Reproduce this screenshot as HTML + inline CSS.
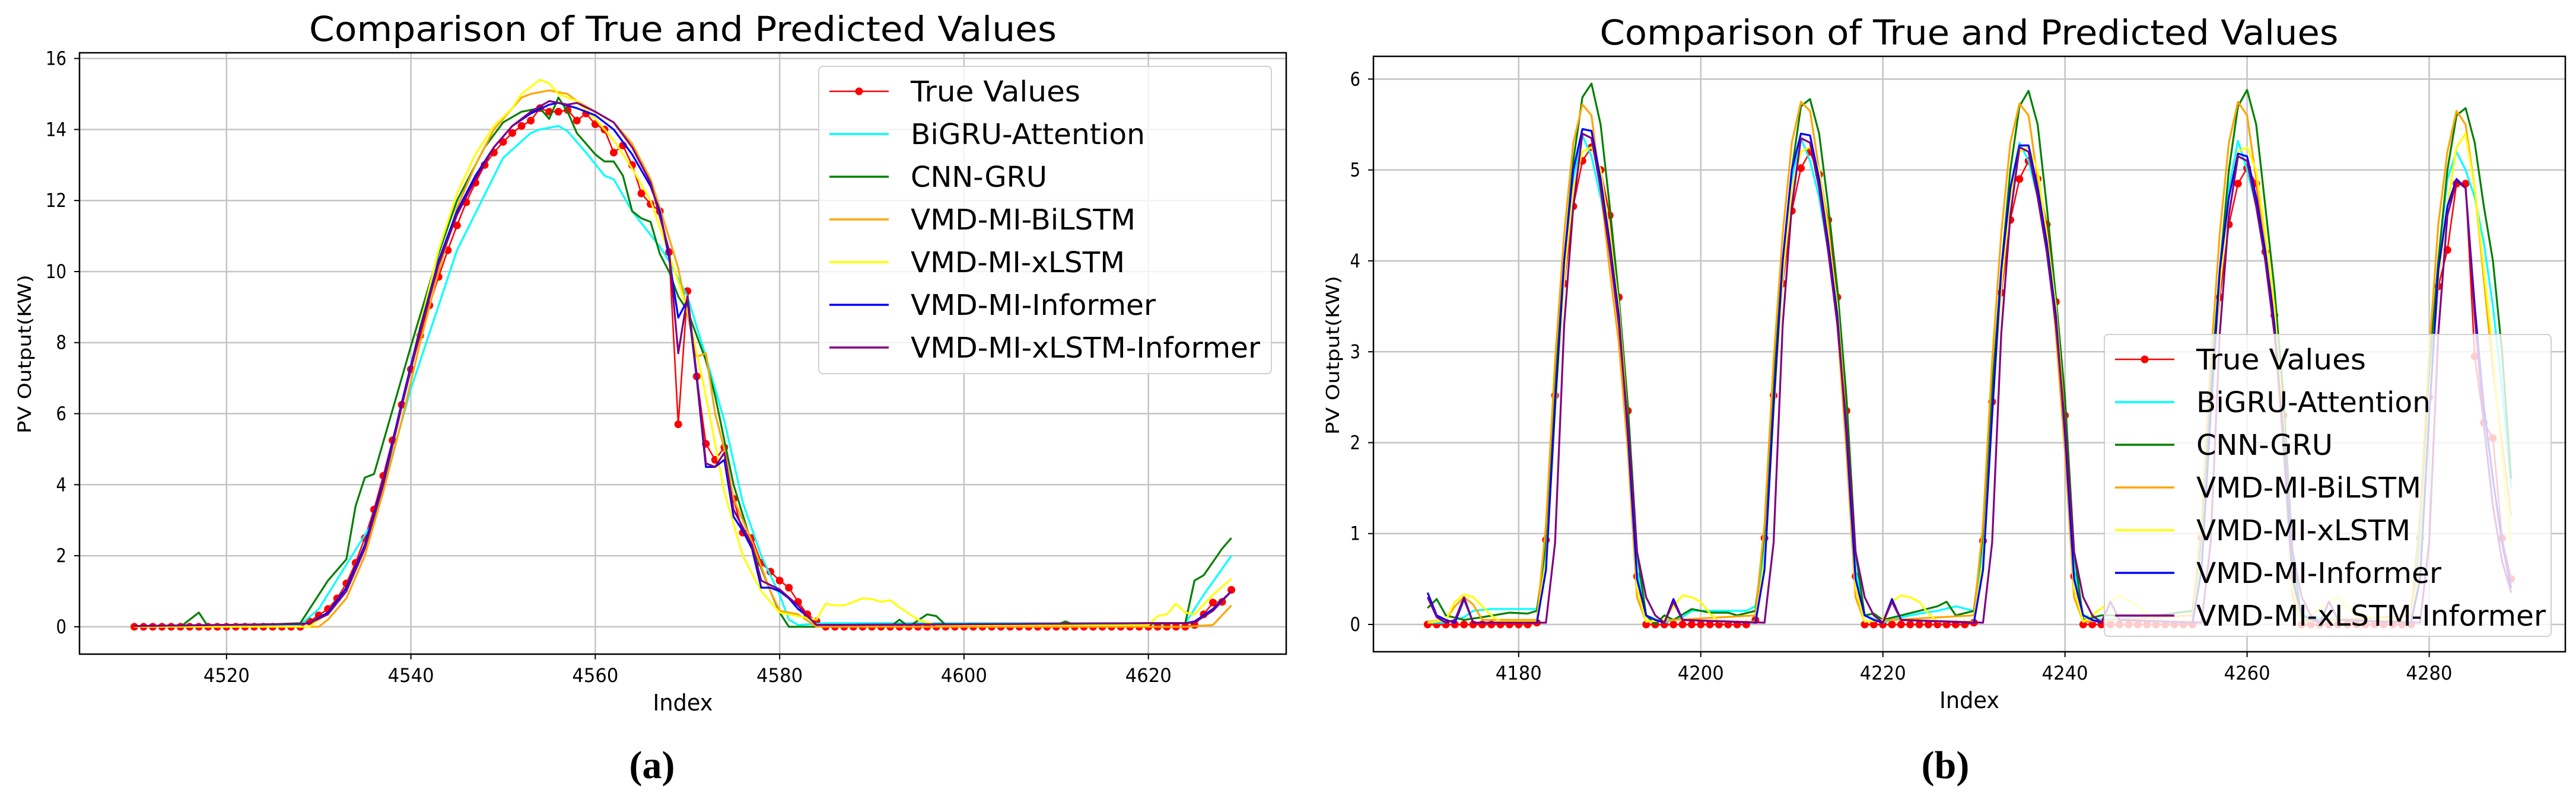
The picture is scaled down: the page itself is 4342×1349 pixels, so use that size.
<!DOCTYPE html>
<html><head><meta charset="utf-8"><style>
html,body{margin:0;padding:0;background:#fff;}
svg{display:block;}
text{font-family:"DejaVu Sans","Liberation Sans",sans-serif;}
</style></head><body>
<svg id="fig" width="4342" height="1349" viewBox="0 0 4342 1349" xmlns="http://www.w3.org/2000/svg"></svg>
<script>
// ===== Chart (a) data =====
const aStart = 4510;
const aTrue = [0,0,0,0,0,0,0,0,0,0,0,0,0,0,0,0,0,0,0,
0.15,0.32,0.5,0.8,1.22,1.8,2.5,3.3,4.25,5.25,6.25,7.25,8.2,9.05,9.85,10.6,11.3,11.95,12.5,13.0,13.35,13.65,13.9,14.1,14.25,14.6,14.5,14.5,14.55,14.25,14.45,14.15,14.0,13.35,13.55,13.0,12.2,11.9,11.7,10.55,5.7,9.45,7.05,5.15,4.7,5.05,3.6,2.65,2.5,1.8,1.55,1.3,1.1,0.7,0.35,0.15,
0,0,0,0,0,0,0,0,0,0,0,0,0,0,0,0,0,0,0,0,0,0,0,0,0,0,0,0,0,0,0,0,0,0,0,0,0,0,0,0,0.05,
0.35,0.68,0.7,1.04];
const aBigruX = [4510,4528,4530,4533,4536,4540,4545,4550,4553,4554,4556,4557,4559,4561,4562,4564,4567,4568,4570,4572,4574,4576,4578,4580,4581,4582,4585,4620,4624,4626,4629];
const aBigruY = [0.02,0.05,0.5,1.75,3.0,6.7,10.6,13.2,13.9,14.0,14.1,13.95,13.35,12.7,12.6,11.7,10.7,10.3,9.3,7.6,5.8,3.5,2.0,0.9,0.2,0.05,0.1,0.1,0.1,0.9,2.0];
const aCnnX = [4510,4515,4517,4518,4528,4530,4531,4533,4534,4535,4536,4537,4540,4543,4545,4548,4550,4552,4554,4555,4556,4557,4558,4559,4560,4561,4562,4563,4564,4565,4566,4567,4568,4569,4570,4572,4573,4575,4577,4579,4580,4581,4592,4593,4594,4596,4597,4598,4610,4611,4612,4624,4625,4626,4628,4629];
const aCnnY = [0,0,0.4,0,0.1,0.9,1.3,1.9,3.4,4.2,4.3,5.2,7.9,10.5,12.0,13.5,14.2,14.5,14.6,14.3,14.9,14.5,13.9,13.6,13.3,13.1,13.1,12.7,11.7,11.5,11.4,10.5,10.0,9.3,8.9,7.5,6.5,4.0,2.3,1.0,0.4,0,0,0.2,0,0.35,0.3,0.05,0.05,0.15,0.05,0.1,1.3,1.45,2.2,2.5];
const aBilstmX = [4510,4530,4531,4533,4535,4537,4539,4541,4543,4545,4547,4549,4551,4552,4553,4555,4557,4558,4560,4562,4564,4566,4567,4569,4570,4571,4572,4573,4574,4575,4577,4579,4580,4582,4584,4624,4627,4629];
const aBilstmY = [0,0,0.2,0.8,2.0,3.8,5.8,8.0,10.0,11.8,13.0,14.0,14.6,14.9,15.0,15.1,15.0,14.8,14.5,14.2,13.6,12.6,11.8,10.1,8.8,7.6,7.7,6.0,5.0,3.6,2.4,1.0,0.45,0.35,0,0,0.05,0.6];
const aXlstmX = [4510,4529,4531,4533,4535,4537,4539,4541,4543,4545,4547,4549,4551,4552,4554,4555,4556,4558,4560,4562,4564,4566,4568,4570,4572,4574,4576,4578,4580,4582,4584,4585,4586,4587,4588,4589,4590,4591,4592,4593,4595,4597,4620,4621,4622,4623,4624,4625,4627,4629];
const aXlstmY = [0,0,0.4,1.1,2.3,4.0,6.2,8.5,10.6,12.2,13.3,14.1,14.6,15.0,15.4,15.3,15.0,14.8,14.3,13.7,12.9,12.0,10.5,8.9,6.5,3.8,2.0,1.0,0.4,0.3,0.2,0.65,0.6,0.6,0.7,0.8,0.78,0.7,0.75,0.55,0.2,0.05,0.05,0.3,0.35,0.65,0.4,0.35,0.9,1.35];
const aInfX = [4510,4528,4529,4531,4533,4535,4537,4539,4541,4543,4545,4547,4549,4551,4553,4555,4556,4558,4560,4562,4564,4566,4567,4568,4569,4570,4571,4572,4573,4574,4575,4576,4577,4578,4579,4580,4581,4582,4583,4584,4620,4624,4625,4627,4629];
const aInfY = [0.02,0.08,0.1,0.4,1.1,2.3,4.1,6.3,8.4,10.3,11.7,12.7,13.5,14.1,14.45,14.7,14.75,14.6,14.4,14.0,13.3,12.4,11.7,10.4,8.7,9.2,7.0,4.5,4.5,4.7,3.1,2.7,2.2,1.1,1.1,1.0,0.8,0.5,0.3,0.05,0.1,0.1,0.15,0.5,1.0];
const aXinfX = [4510,4528,4529,4531,4533,4535,4537,4539,4541,4543,4545,4547,4549,4551,4553,4555,4557,4558,4560,4562,4564,4566,4568,4569,4570,4571,4572,4573,4574,4575,4576,4577,4578,4580,4582,4583,4584,4620,4624,4625,4627,4629];
const aXinfY = [0.02,0.08,0.1,0.35,1.0,2.2,4.0,6.2,8.3,10.2,11.6,12.6,13.5,14.1,14.5,14.8,14.7,14.75,14.5,14.2,13.5,12.5,10.6,7.7,9.3,7.1,4.6,4.5,4.9,3.3,2.8,2.3,1.3,1.05,0.6,0.3,0.05,0.1,0.1,0.12,0.45,1.0];
const aXTicks = [4520,4540,4560,4580,4600,4620];
const aYTicks = [0,2,4,6,8,10,12,14,16];

// ===== Chart (b) data =====
const bStart = 4170;
const bTrue = [0,0,0,0,0,0,0,0,0,0,0,0,0.02,
0.93,2.52,3.75,4.6,5.1,5.25,5.0,4.5,3.6,2.35,0.53,
0,0,0,0,0,0,0,0,0,0,0,0,0.05,
0.95,2.52,3.75,4.55,5.02,5.2,4.95,4.45,3.6,2.35,0.53,
0,0,0,0,0,0,0,0,0,0,0,0,0.02,
0.92,2.45,3.65,4.45,4.9,5.1,4.9,4.4,3.55,2.3,0.53,
0,0,0,0,0,0,0,0,0,0,0,0,0,
0.95,2.5,3.6,4.4,4.85,5.02,4.85,4.1,3.4,2.3,0.53,
0,0,0,0,0,0,0,0,0,0,0,0,0,
0.95,2.5,3.72,4.12,4.85,4.85,2.95,2.22,2.05,0.95,0.5];
const bBigruX = [4170,4172,4174,4175,4177,4181,4182,4183,4184,4185,4186,4187,4188,4189,4190,4191,4192,4193,4194,4196,4198,4199,4201,4205,4206,4207,4208,4209,4210,4211,4212,4213,4214,4215,4216,4217,4218,4220,4222,4224,4226,4228,4230,4231,4232,4233,4234,4235,4236,4237,4238,4239,4240,4241,4242,4244,4250,4254,4255,4256,4257,4258,4259,4260,4261,4262,4263,4264,4265,4266,4270,4278,4279,4280,4281,4282,4283,4284,4285,4286,4287,4288,4289];
const bBigruY = [0.02,0.02,0.08,0.15,0.17,0.17,0.17,0.8,2.6,4.0,4.9,5.38,5.15,4.7,4.1,3.4,2.2,0.6,0.1,0.02,0.08,0.15,0.15,0.15,0.2,0.8,2.6,4.0,4.9,5.35,5.1,4.7,4.1,3.4,2.2,0.6,0.1,0.02,0.08,0.12,0.15,0.2,0.15,0.8,2.5,3.9,4.8,5.3,5.1,4.7,4.1,3.3,2.1,0.6,0.1,0.05,0.1,0.15,0.8,2.5,3.9,4.8,5.32,5.0,4.6,4.0,3.3,2.1,0.6,0.1,0.05,0.1,1.0,2.7,4.0,4.9,5.2,5.0,4.7,4.2,3.5,2.6,1.5];
const bCnnX = [4170,4171,4172,4174,4176,4179,4181,4182,4183,4184,4185,4186,4187,4188,4189,4190,4191,4192,4193,4194,4195,4196,4197,4199,4201,4203,4204,4206,4207,4208,4209,4210,4211,4212,4213,4214,4215,4216,4217,4218,4219,4220,4222,4224,4226,4227,4228,4230,4231,4232,4233,4234,4235,4236,4237,4238,4239,4240,4241,4242,4244,4246,4250,4254,4255,4256,4257,4258,4259,4260,4261,4262,4263,4264,4265,4266,4270,4278,4279,4280,4281,4282,4283,4284,4285,4286,4287,4288,4289];
const bCnnY = [0.18,0.28,0.1,0.05,0.08,0.13,0.12,0.15,0.9,2.6,4.0,5.1,5.8,5.95,5.5,4.6,3.6,2.4,0.8,0.1,0,0.1,0.05,0.17,0.13,0.13,0.1,0.15,1.0,2.7,4.0,5.0,5.7,5.78,5.4,4.6,3.7,2.5,0.8,0.1,0.12,0.05,0.1,0.15,0.2,0.25,0.1,0.15,1.0,2.6,3.9,5.0,5.7,5.87,5.5,4.6,3.6,2.5,0.8,0.05,0.1,0.1,0.1,0.15,1.0,2.6,3.9,5.0,5.7,5.88,5.5,4.6,3.7,2.5,0.8,0.05,0.05,0.1,1.2,2.8,4.0,5.0,5.6,5.68,5.3,4.6,4.0,3.0,1.6];
const bBilstmX = [4170,4172,4173,4174,4175,4176,4182,4183,4184,4185,4186,4187,4188,4189,4190,4191,4192,4193,4194,4197,4206,4207,4208,4209,4210,4211,4212,4213,4214,4215,4216,4217,4218,4221,4230,4231,4232,4233,4234,4235,4236,4237,4238,4239,4240,4241,4242,4254,4255,4256,4257,4258,4259,4260,4261,4262,4263,4264,4265,4266,4278,4279,4280,4281,4282,4283,4284,4285,4286,4287,4288,4289];
const bBilstmY = [0.03,0.05,0.2,0.3,0.22,0.05,0.05,1.1,2.9,4.3,5.3,5.72,5.6,4.8,3.9,3.1,1.9,0.3,0.03,0.05,0.1,1.1,2.9,4.3,5.3,5.75,5.65,5.0,4.4,3.3,1.9,0.3,0.03,0.05,0.1,1.1,2.9,4.3,5.3,5.73,5.6,4.9,4.3,3.2,1.9,0.3,0.03,0.1,1.1,2.9,4.3,5.3,5.75,5.6,4.9,4.2,3.2,1.9,0.3,0.03,0.1,1.2,3.0,4.4,5.2,5.65,5.5,4.8,3.8,2.8,2.0,1.2];
const bXlstmX = [4170,4172,4173,4174,4175,4176,4177,4178,4182,4183,4184,4185,4186,4187,4188,4189,4190,4191,4192,4193,4194,4196,4197,4198,4199,4200,4201,4202,4206,4207,4208,4209,4210,4211,4212,4213,4214,4215,4216,4217,4218,4220,4221,4222,4223,4224,4225,4226,4230,4231,4232,4233,4234,4235,4236,4237,4238,4239,4240,4241,4242,4245,4246,4248,4250,4254,4255,4256,4257,4258,4259,4260,4261,4262,4263,4264,4265,4266,4269,4270,4272,4278,4279,4280,4281,4282,4283,4284,4285,4286,4287,4288,4289];
const bXlstmY = [0.02,0.05,0.25,0.33,0.3,0.2,0.1,0.03,0.03,0.7,2.3,3.8,4.8,5.2,5.25,5.0,4.3,3.5,2.2,0.4,0.03,0.05,0.2,0.32,0.3,0.25,0.12,0.03,0.03,0.7,2.3,3.8,4.8,5.2,5.25,5.0,4.3,3.5,2.2,0.4,0.03,0.05,0.25,0.32,0.3,0.25,0.12,0.03,0.03,0.7,2.3,3.7,4.7,5.2,5.25,5.0,4.3,3.5,2.2,0.4,0.03,0.25,0.32,0.2,0.03,0.03,0.7,2.3,3.7,4.7,5.2,5.25,5.0,4.3,3.5,2.2,0.4,0.03,0.25,0.3,0.1,0.03,0.7,2.5,3.8,4.6,5.25,5.4,4.8,3.9,3.0,1.8,0.9];
const bInfX = [4170,4171,4172,4173,4174,4175,4182,4183,4184,4185,4186,4187,4188,4189,4190,4191,4192,4193,4194,4195,4196,4197,4198,4206,4207,4208,4209,4210,4211,4212,4213,4214,4215,4216,4217,4218,4219,4220,4221,4222,4230,4231,4232,4233,4234,4235,4236,4237,4238,4239,4240,4241,4242,4243,4244,4245,4246,4254,4255,4256,4257,4258,4259,4260,4261,4262,4263,4264,4265,4266,4268,4269,4270,4278,4279,4280,4281,4282,4283,4284,4285,4286,4287,4288,4289];
const bInfY = [0.35,0.1,0.05,0.02,0.28,0.02,0.02,0.6,2.4,4.0,5.0,5.45,5.43,4.9,4.2,3.4,2.1,0.5,0.1,0.05,0.02,0.28,0.05,0.02,0.6,2.4,4.0,5.0,5.4,5.38,4.9,4.2,3.4,2.1,0.5,0.1,0.05,0.02,0.28,0.05,0.02,0.6,2.3,3.9,4.8,5.27,5.27,4.8,4.2,3.4,2.1,0.5,0.1,0.05,0.02,0.25,0.05,0.02,0.6,2.3,3.9,4.7,5.18,5.15,4.7,4.1,3.3,2.0,0.5,0.1,0.02,0.25,0.05,0.02,0.5,2.3,3.9,4.6,4.9,4.8,3.5,2.4,1.6,0.9,0.4];
const bXinfX = [4170,4171,4172,4173,4174,4175,4183,4184,4185,4186,4187,4188,4189,4190,4191,4192,4193,4194,4195,4196,4197,4198,4207,4208,4209,4210,4211,4212,4213,4214,4215,4216,4217,4218,4219,4220,4221,4222,4231,4232,4233,4234,4235,4236,4237,4238,4239,4240,4241,4242,4243,4244,4245,4246,4255,4256,4257,4258,4259,4260,4261,4262,4263,4264,4265,4266,4267,4268,4269,4270,4279,4280,4281,4282,4283,4284,4285,4286,4287,4288,4289];
const bXinfY = [0.3,0.08,0.02,0.05,0.3,0.02,0.02,0.9,3.3,4.6,5.4,5.35,4.8,4.1,3.3,2.2,0.8,0.3,0.1,0.02,0.25,0.05,0.02,0.9,3.3,4.6,5.35,5.3,4.8,4.1,3.3,2.2,0.8,0.3,0.1,0.02,0.25,0.05,0.02,0.9,3.2,4.5,5.25,5.2,4.7,4.1,3.3,2.2,0.8,0.3,0.1,0.02,0.25,0.05,0.02,0.9,3.2,4.5,5.15,5.1,4.6,4.0,3.2,2.1,0.8,0.3,0.1,0.02,0.25,0.05,0.02,0.9,3.2,4.5,4.88,4.8,3.4,2.2,1.3,0.7,0.35];
const bXTicks = [4180,4200,4220,4240,4260,4280];
const bYTicks = [0,1,2,3,4,5,6];

const legendLabels = ["True Values","BiGRU-Attention","CNN-GRU","VMD-MI-BiLSTM","VMD-MI-xLSTM","VMD-MI-Informer","VMD-MI-xLSTM-Informer"];
const legendWidths = [286,395,230,379,361,413,589];
const colors = ["#ff0000","#00ffff","#008000","#ffa500","#ffff00","#0000ff","#800080"];

const NS = "http://www.w3.org/2000/svg";
const svg = document.getElementById('fig');
function mk(tag, attrs, parent){ const e=document.createElementNS(NS,tag); for(const k in attrs) e.setAttribute(k,attrs[k]); (parent||svg).appendChild(e); return e; }

function drawChart(c){
  const g = mk('g',{});
  
  
  const xs = v => c.L + (v - c.xmin)/(c.xmax - c.xmin)*(c.R - c.L);
  const ys = v => c.B - (v - c.ymin)/(c.ymax - c.ymin)*(c.B - c.T);
  const clipId = c.name+'-clip';
  const cp = mk('clipPath',{id:clipId},g);
  mk('rect',{x:c.L,y:c.T,width:c.R-c.L,height:c.B-c.T},cp);
  // grid
  const grid = mk('g',{stroke:'#c4c4c4','stroke-width':2.5},g);
  
  
  c.xticks.forEach(t=>{ mk('line',{x1:xs(t),x2:xs(t),y1:c.T,y2:c.B},grid); });
  c.yticks.forEach(t=>{ mk('line',{x1:c.L,x2:c.R,y1:ys(t),y2:ys(t)},grid); });
  // series
  const plot = mk('g',{'clip-path':'url(#'+clipId+')'},g);
  const trueX = c.trueY.map((v,i)=>c.start+i);
  const tp = mk('polyline',{points:trueX.map((x,i)=>xs(x)+','+ys(c.trueY[i])).join(' '),fill:'none',stroke:colors[0],'stroke-width':2.5},plot);
  
  
  const dots = mk('g',{fill:colors[0]},plot);
  
  
  trueX.forEach((x,i)=>{ mk('circle',{cx:xs(x),cy:ys(c.trueY[i]),r:6.5},dots); });
  const names=['bigru-attention-line','cnn-gru-line','vmd-mi-bilstm-line','vmd-mi-xlstm-line','vmd-mi-informer-line','vmd-mi-xlstm-informer-line'];
  c.series.forEach((s,k)=>{
    const p = mk('polyline',{points:s[0].map((x,i)=>xs(x)+','+ys(s[1][i])).join(' '),fill:'none',stroke:colors[k+1],'stroke-width':3.2,'stroke-linejoin':'round'},plot);
    
    
  });
  // spines
  const sp = mk('rect',{x:c.L,y:c.T,width:c.R-c.L,height:c.B-c.T,fill:'none',stroke:'#000','stroke-width':2.5},g);
  
  
  // ticks
  const xt = mk('g',{},g);
  
  
  c.xticks.forEach(t=>{
    mk('line',{x1:xs(t),x2:xs(t),y1:c.B,y2:c.B+9,stroke:'#000','stroke-width':2},xt);
    const tx = mk('text',{x:xs(t),y:c.B+47,'font-size':32,'text-anchor':'middle',textLength:78,lengthAdjust:'spacingAndGlyphs',fill:'#000'},xt);
    tx.textContent = t;
    
    
  });
  const yt = mk('g',{},g);
  
  
  c.yticks.forEach(t=>{
    mk('line',{x1:c.L-9,x2:c.L,y1:ys(t),y2:ys(t),stroke:'#000','stroke-width':2},yt);
    const s = String(t);
    const tx = mk('text',{x:c.L-22,y:ys(t)+11,'font-size':32,'text-anchor':'end',textLength:s.length*17.5,lengthAdjust:'spacingAndGlyphs',fill:'#000'},yt);
    tx.textContent = s;
    
    
  });
  // titles
  const ti = mk('text',{x:c.titleX,y:c.T-20,'font-size':58,'text-anchor':'middle',textLength:c.titleW,lengthAdjust:'spacingAndGlyphs',fill:'#000'},g);
  ti.textContent='Comparison of True and Predicted Values';
  
  
  const xl = mk('text',{x:(c.L+c.R)/2,y:c.B+95,'font-size':38,'text-anchor':'middle',textLength:101,lengthAdjust:'spacingAndGlyphs',fill:'#000'},g);
  xl.textContent='Index';
  
  
  const yl = mk('text',{x:0,y:0,'font-size':30,'text-anchor':'middle',textLength:268,lengthAdjust:'spacingAndGlyphs',fill:'#000',transform:'translate('+c.ylabX+','+c.ylabY+') rotate(-90)'},g);
  yl.textContent='PV Output(KW)';
  
  
  // legend
  const lg = mk('g',{},g);
  
  
  mk('rect',{x:c.lgX,y:c.lgY,width:c.lgW,height:c.lgH,rx:7,fill:'#fff','fill-opacity':0.8,stroke:'#d0d0d0','stroke-width':2},lg);
  legendLabels.forEach((lab,i)=>{
    const y = c.lgY + 42 + i*72;
    const en = mk('g',{},lg);
    
    
    mk('line',{x1:c.lgX+18,x2:c.lgX+118,y1:y,y2:y,stroke:colors[i],'stroke-width':i===0?2.5:3.5},en);
    if(i===0) mk('circle',{cx:c.lgX+68,cy:y,r:6.5,fill:colors[0]},en);
    const tx = mk('text',{x:c.lgX+155,y:y+17,'font-size':48,textLength:legendWidths[i],lengthAdjust:'spacingAndGlyphs',fill:'#000'},en);
    tx.textContent = lab;
  });
  // panel label
  const pl = mk('text',{x:c.panelX,y:1312,'font-size':66,'text-anchor':'middle','font-weight':'bold',fill:'#000',style:'font-family:"Liberation Serif",serif'},g);
  pl.textContent = c.panel;
  
  
}

drawChart({name:'chart-a',L:134,R:2168,T:89,B:1103,xmin:4504.05,xmax:4634.95,ymin:-0.77,ymax:16.16,
  start:aStart,trueY:aTrue,
  series:[[aBigruX,aBigruY],[aCnnX,aCnnY],[aBilstmX,aBilstmY],[aXlstmX,aXlstmY],[aInfX,aInfY],[aXinfX,aXinfY]],
  xticks:aXTicks,yticks:aYTicks,titleX:1151,titleW:1260,ylabX:52,ylabY:597,
  lgX:1380,lgY:112,lgW:763,lgH:518,panel:'(a)',panelX:1099});
drawChart({name:'chart-b',L:2315,R:4324,T:95,B:1099,xmin:4164.05,xmax:4294.95,ymin:-0.3,ymax:6.25,
  start:bStart,trueY:bTrue,
  series:[[bBigruX,bBigruY],[bCnnX,bCnnY],[bBilstmX,bBilstmY],[bXlstmX,bXlstmY],[bInfX,bInfY],[bXinfX,bXinfY]],
  xticks:bXTicks,yticks:bYTicks,titleX:3319,titleW:1245,ylabX:2257,ylabY:599,
  lgX:3547,lgY:564,lgW:753,lgH:509,panel:'(b)',panelX:3279});
</script>
</body></html>
